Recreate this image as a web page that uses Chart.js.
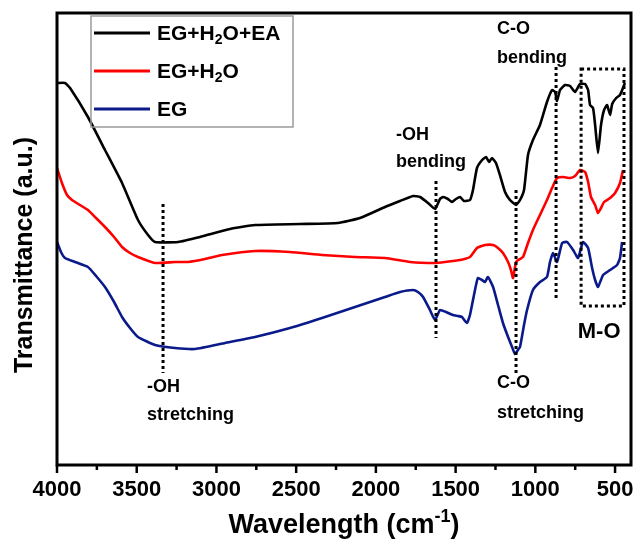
<!DOCTYPE html>
<html>
<head>
<meta charset="utf-8">
<title>FTIR spectra</title>
<script src="https://cdn.jsdelivr.net/npm/chart.js@4"></script>
<style>
  html, body { margin: 0; padding: 0; background: #fff; }
  canvas { display: block; }
</style>
</head>
<body>
<canvas id="cv1" width="635" height="542"></canvas>
<script>
// wavenumber (cm-1) and transmittance (a.u., offset per sample)
const eaWn = [4000, 3950, 3918, 3806, 3699, 3592, 3492, 3429, 3385, 3241, 3103, 2915, 2758, 2476, 2238, 2100, 1943,
  1849, 1767, 1723, 1673, 1629, 1598, 1579, 1548, 1523, 1498, 1472, 1447, 1410, 1391, 1366, 1334, 1309, 1290, 1272,
  1247, 1222, 1190, 1159, 1121, 1096, 1071, 1046, 1015, 971, 927, 895, 876, 864, 845, 814, 782, 751, 720, 688, 669,
  657, 638, 625, 607, 588, 569, 550, 531, 518, 493, 469, 438];
const eaT = [38.2, 38.2, 37.7, 34.8, 31.5, 28.2, 24.5, 23.0, 22.3, 22.3, 22.8, 23.6, 24.0, 24.1, 24.2, 24.7, 25.8,
  26.4, 26.9, 26.8, 26.2, 25.6, 26.6, 26.8, 26.6, 26.3, 26.6, 26.8, 26.4, 26.5, 27.5, 29.7, 30.5, 30.8, 30.3, 30.7,
  30.2, 29.0, 27.3, 26.5, 26.0, 26.5, 27.5, 31.0, 32.5, 34.0, 36.3, 37.5, 37.3, 36.4, 37.5, 38.0, 37.9, 37.3, 38.1,
  38.1, 37.5, 36.0, 35.7, 34.0, 31.2, 34.0, 35.5, 36.0, 35.0, 36.1, 36.7, 37.0, 38.2];

const waterWn = [4000, 3969, 3937, 3906, 3856, 3806, 3755, 3699, 3642, 3592, 3542, 3492, 3385, 3260, 3178, 3072, 2965,
  2758, 2539, 2338, 2131, 1943, 1786, 1629, 1567, 1472, 1410, 1366, 1316, 1265, 1234, 1203, 1171, 1153, 1140, 1121,
  1096, 1077, 1046, 1015, 971, 927, 895, 864, 826, 782, 751, 720, 688, 669, 651, 625, 607, 588, 569, 531, 500, 469, 450];
const waterT = [29.7, 28.2, 27.0, 26.5, 26.0, 25.5, 24.7, 23.8, 22.8, 21.8, 21.2, 20.8, 20.2, 20.3, 20.3, 20.6, 21.0,
  21.4, 21.3, 21.0, 20.8, 20.7, 20.3, 20.2, 20.3, 20.5, 20.8, 21.7, 22.0, 22.0, 21.7, 21.2, 20.3, 19.5, 18.7, 20.3,
  20.6, 20.8, 22.2, 23.5, 25.0, 26.5, 27.7, 28.7, 28.8, 28.7, 28.9, 29.5, 29.3, 28.3, 26.8, 26.0, 25.2, 25.7, 26.3,
  26.7, 27.2, 28.2, 29.5];

const egWn = [4000, 3975, 3950, 3887, 3806, 3755, 3699, 3642, 3592, 3542, 3492, 3385, 3260, 3134, 2946, 2758, 2539,
  2338, 2131, 1943, 1849, 1767, 1736, 1704, 1661, 1629, 1598, 1560, 1517, 1485, 1460, 1429, 1410, 1391, 1372, 1360,
  1334, 1316, 1297, 1265, 1234, 1203, 1171, 1146, 1128, 1109, 1096, 1071, 1052, 1015, 971, 927, 908, 889, 864, 832,
  801, 763, 732, 701, 669, 644, 625, 607, 575, 531, 487, 469, 456];
const egT = [22.3, 21.3, 20.7, 20.3, 19.8, 18.9, 17.8, 16.3, 14.8, 13.7, 12.8, 12.0, 11.7, 11.6, 12.2, 12.8, 13.7,
  14.7, 15.8, 16.8, 17.3, 17.5, 17.3, 16.8, 15.5, 14.5, 15.5, 15.3, 15.0, 14.9, 14.8, 14.2, 15.0, 16.5, 18.0, 18.7,
  18.5, 18.3, 18.8, 17.8, 16.0, 14.2, 12.8, 11.8, 11.1, 11.5, 11.8, 14.0, 15.5, 17.5, 18.3, 18.8, 20.3, 21.2, 20.3,
  22.2, 22.3, 21.5, 20.7, 22.3, 21.7, 19.7, 18.5, 17.8, 19.0, 19.5, 20.0, 20.7, 22.3];

const seriesNames = ['EG+H₂O+EA', 'EG+H₂O', 'EG'];
const xTicks = [4000, 3500, 3000, 2500, 2000, 1500, 1000, 500];

// band markers: wavenumber, dotted line from / to (a.u.)
const bandLines = [
  [3335, 26.1, 9.2],
  [1623, 28.4, 12.7],
  [1121, 27.5, 9.0],
  [870, 39.8, 16.7]
];
const moBox = [713, 444, 39.6, 15.9];

// band captions: text lines, wavenumber of left edge, a.u. of each line
const bandText = [
  [['-OH', 'stretching'], 3435, [7.8, 5.0]],
  [['-OH', 'bending'], 1874, [33.0, 30.3]],
  [['C-O', 'bending'], 1240, [43.6, 40.7]],
  [['C-O', 'stretching'], 1240, [8.2, 5.2]]
];

const FONT = '"Liberation Sans", Arial, sans-serif';
const colors = ['#000000', '#ff0000', '#0b1a8a'];

function pts(xs, ys) {
  return xs.map((x, i) => ({ x: x, y: ys[i] }));
}

// draws text where ₂ is a subscript and ⁻¹ a superscript
function richText(ctx, text, x, y, size, align) {
  const parts = [];
  for (const ch of text) {
    let kind = 'n', c = ch;
    if (ch === '₂') { kind = 'sub'; c = '2'; }
    if (ch === '⁻') { kind = 'sup'; c = '-'; }
    if (ch === '¹') { kind = 'sup'; c = '1'; }
    const last = parts[parts.length - 1];
    if (last && last.kind === kind) last.t += c; else parts.push({ kind: kind, t: c });
  }
  const small = Math.round(size * 0.68);
  let w = 0;
  parts.forEach(p => {
    ctx.font = 'bold ' + (p.kind === 'n' ? size : small) + 'px ' + FONT;
    p.w = ctx.measureText(p.t).width;
    w += p.w;
  });
  let cx = align === 'center' ? x - w / 2 : x;
  ctx.textAlign = 'left';
  ctx.textBaseline = 'middle';
  parts.forEach(p => {
    ctx.font = 'bold ' + (p.kind === 'n' ? size : small) + 'px ' + FONT;
    let dy = 0;
    if (p.kind === 'sub') dy = size * 0.3;
    if (p.kind === 'sup') dy = -size * 0.35;
    ctx.fillText(p.t, cx, y + dy);
    cx += p.w;
  });
}

const decor = {
  id: 'decor',
  afterDatasetsDraw(chart) {
    const ctx = chart.ctx;
    const a = chart.chartArea;
    const xs = chart.scales.x, ys = chart.scales.y;
    const X = v => xs.getPixelForValue(v), Y = v => ys.getPixelForValue(v);
    ctx.save();
    ctx.strokeStyle = '#000';
    ctx.fillStyle = '#000';

    // dotted band markers
    ctx.lineWidth = 3;
    ctx.setLineDash([3, 3]);
    bandLines.forEach(b => {
      ctx.beginPath();
      ctx.moveTo(X(b[0]), Y(b[1]));
      ctx.lineTo(X(b[0]), Y(b[2]));
      ctx.stroke();
    });
    ctx.strokeRect(X(moBox[0]), Y(moBox[2]), X(moBox[1]) - X(moBox[0]), Y(moBox[3]) - Y(moBox[2]));
    ctx.setLineDash([]);

    // captions
    bandText.forEach(t => {
      t[0].forEach((line, i) => {
        ctx.font = 'bold 18px ' + FONT;
        ctx.textAlign = 'left';
        ctx.textBaseline = 'middle';
        ctx.fillText(line, X(t[1]), Y(t[2][i]));
      });
    });
    ctx.font = 'bold 22px ' + FONT;
    ctx.textAlign = 'center';
    ctx.fillText('M-O', X(600), Y(13.3));

    // frame
    ctx.lineWidth = 3;
    ctx.strokeRect(a.left, a.top, a.right - a.left, a.bottom - a.top);

    // x ticks, minor between labels
    ctx.lineWidth = 2.5;
    for (let v = 500; v <= 4000; v += 250) {
      const px = X(v);
      ctx.beginPath();
      ctx.moveTo(px, a.bottom);
      ctx.lineTo(px, a.bottom + (v % 500 === 0 ? 8 : 5));
      ctx.stroke();
    }
    ctx.font = 'bold 22px ' + FONT;
    ctx.textAlign = 'center';
    ctx.textBaseline = 'middle';
    xTicks.forEach(v => ctx.fillText(String(v), X(v), a.bottom + 25));

    // legend
    ctx.lineWidth = 1.5;
    ctx.strokeStyle = '#9a9a9a';
    ctx.strokeRect(91, 16, 202, 111);
    chart.data.datasets.forEach((ds, i) => {
      const ly = 33 + i * 38;
      ctx.strokeStyle = ds.borderColor;
      ctx.lineWidth = 3;
      ctx.beginPath();
      ctx.moveTo(94, ly);
      ctx.lineTo(150, ly);
      ctx.stroke();
      ctx.fillStyle = '#000';
      richText(ctx, ds.label, 157, ly + 1, 21, 'left');
    });

    // axis titles
    ctx.fillStyle = '#000';
    richText(ctx, 'Wavelength (cm⁻¹)', 344, 526, 27, 'center');
    ctx.translate(25, 255);
    ctx.rotate(-Math.PI / 2);
    ctx.font = 'bold 25px ' + FONT;
    ctx.textAlign = 'center';
    ctx.textBaseline = 'middle';
    ctx.fillText('Transmittance (a.u.)', 0, 0);
    ctx.restore();
  }
};

const canvas = document.getElementById('cv1');

new Chart(canvas, {
  type: 'line',
  data: {
    datasets: [
      { label: seriesNames[0], data: pts(eaWn, eaT), borderColor: colors[0] },
      { label: seriesNames[1], data: pts(waterWn, waterT), borderColor: colors[1] },
      { label: seriesNames[2], data: pts(egWn, egT), borderColor: colors[2] }
    ]
  },
  options: {
    responsive: false,
    animation: false,
    layout: { padding: { top: 13, right: 4, left: 0, bottom: 0 } },
    elements: {
      line: { borderWidth: 2.6, tension: 0.15, fill: false },
      point: { radius: 0 }
    },
    plugins: {
      legend: { display: false },
      tooltip: { enabled: false }
    },
    scales: {
      x: {
        type: 'linear',
        reverse: true,
        min: 400,
        max: 4000,
        grid: { display: false },
        border: { display: false },
        ticks: { display: false },
        afterFit: s => { s.height = 77; }
      },
      y: {
        min: 0,
        max: 45.2,
        grid: { display: false },
        border: { display: false },
        ticks: { display: false },
        afterFit: s => { s.width = 57; }
      }
    }
  },
  plugins: [decor]
});
</script>
</body>
</html>
